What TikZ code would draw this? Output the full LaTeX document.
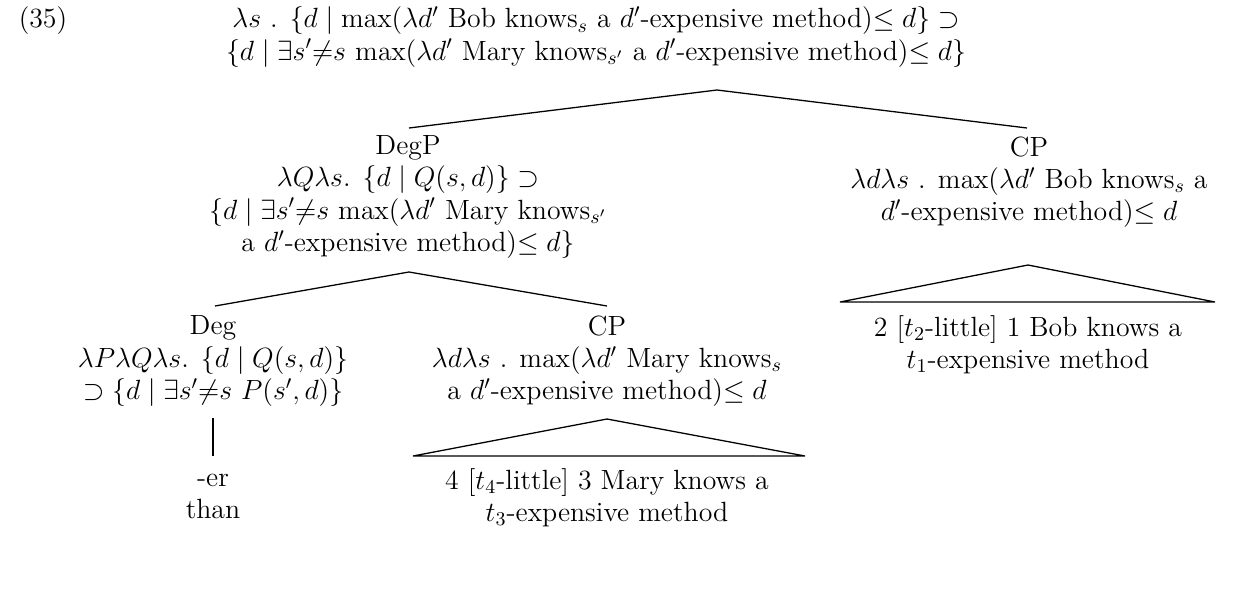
\documentclass[12pt,tikz,border=0pt]{standalone}
\usepackage{fix-cm}
\usepackage{amsmath}
\usepackage{tikz}
\usetikzlibrary{calc,positioning}
\tikzset{
 tree label/.style={align=center,inner sep=0pt,outer sep=0pt,
                    font=\fontsize{13pt}{15pt}\selectfont},
 tree edge/.style={line width=.6pt},
 tree roof/.style={line width=.6pt,line join=miter}
}

\begin{document}
\begin{tikzpicture}[x=0.01644cm,y=-0.01644cm]
 % Coordinates are read off in pixels of the 1247x600 reference, y downwards;
 % the roofs stand for the unanalysed CP complements.
 \useasboundingbox (0,0) rectangle (1247,600);
 \node[tree label] (ex) at (43,21) {(35)};
 \node[tree label] (root) at (596,37)
  {$\lambda s$ . $\{d\mid \max(\lambda d'$ Bob knows$_s$ a $d'$-expensive method)$\leq d\}\supset$\\
   $\{d\mid \exists s'{\neq}s$ $\max(\lambda d'$ Mary knows$_{s'}$ a $d'$-expensive method)$\leq d\}$};
 \node[tree label] (degp) at (408,197)
  {DegP\\
   $\lambda Q\lambda s$. $\{d\mid Q(s,d)\}\supset$\\
   $\{d\mid \exists s'{\neq}s$ $\max(\lambda d'$ Mary knows$_{s'}$\\
   a $d'$-expensive method)$\leq d\}$};
 \node[tree label] (cpbob) at (1029,182)
  {CP\\
   $\lambda d\lambda s$ . $\max(\lambda d'$ Bob knows$_s$ a\\
   $d'$-expensive method)$\leq d$};
 \node[tree label] (deg) at (213,361)
  {Deg\\
   $\lambda P\lambda Q\lambda s$. $\{d\mid Q(s,d)\}$\\
   $\supset\{d\mid \exists s'{\neq}s\ P(s',d)\}$};
 \node[tree label] (cpmary) at (607,361)
  {CP\\
   $\lambda d\lambda s$ . $\max(\lambda d'$ Mary knows$_s$\\
   a $d'$-expensive method)$\leq d$};
 \node[tree label] (er) at (213,496) {-er\\than};
 \node[tree label] (marytxt) at (607,498)
  {4 [$t_4$-little] 3 Mary knows a\\$t_3$-expensive method};
 \node[tree label] (bobtxt) at (1028,345)
  {2 [$t_2$-little] 1 Bob knows a\\$t_1$-expensive method};

 \coordinate (root-f) at (717,90);
 \coordinate (degp-t) at (409,128);
 \coordinate (cpbob-t) at (1027,128);
 \coordinate (degp-f) at (409,272);
 \coordinate (deg-t) at (215,306);
 \coordinate (cpmary-t) at (607,306);
 \coordinate (deg-f) at (213,418);
 \coordinate (er-t) at (213,456);
 \coordinate (mroof-a) at (607,419);
 \coordinate (mroof-l) at (413,456);
 \coordinate (mroof-r) at (805,456);
 \coordinate (broof-a) at (1028,265);
 \coordinate (broof-l) at (840,302);
 \coordinate (broof-r) at (1215,302);

 \draw[tree edge] (degp-t)--(root-f)--(cpbob-t);
 \draw[tree edge] (deg-t)--(degp-f)--(cpmary-t);
 \draw[tree edge] (deg-f)--(er-t);
 \draw[tree roof] (mroof-l)--(mroof-a)--(mroof-r)--cycle;
 \draw[tree roof] (broof-l)--(broof-a)--(broof-r)--cycle;
\end{tikzpicture}
\end{document}
